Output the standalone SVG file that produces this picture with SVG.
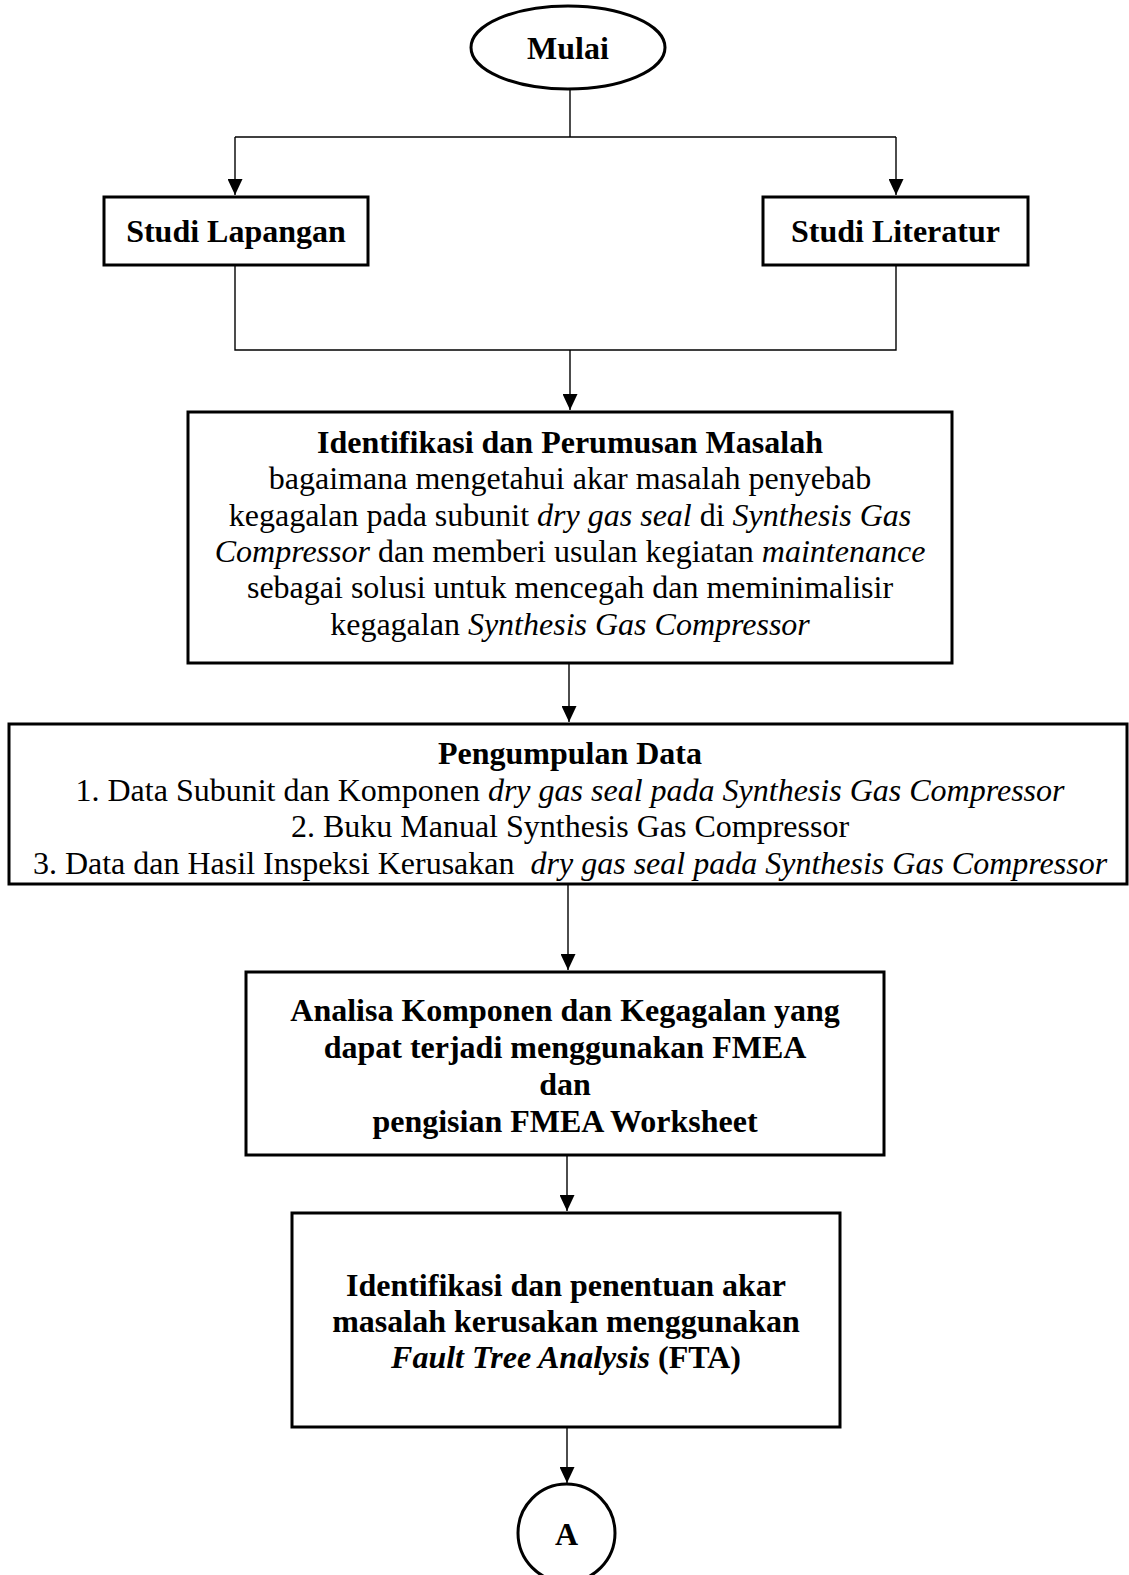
<svg xmlns="http://www.w3.org/2000/svg" width="1129" height="1575" viewBox="0 0 1129 1575">
<style>
  .node { fill: #fff; stroke: #000; stroke-width: 3; }
  .conn { fill: none; stroke: #000; stroke-width: 1.4; }
  text { font-family: "Liberation Serif", "Times New Roman", serif; font-size: 32px; fill: #000; text-anchor: middle; }
  .b { font-weight: bold; }
  .i { font-style: italic; }
</style>
<defs>
  <marker id="arrow" markerUnits="userSpaceOnUse" markerWidth="16" markerHeight="15" viewBox="0 0 16 15" refX="16" refY="7.5" orient="auto">
    <path d="M0,0 L16,7.5 L0,15 z" fill="#000"/>
  </marker>
</defs>
<rect width="1129" height="1575" fill="#fff"/>

<g id="connectors">
  <path class="conn" d="M570,89 V137"/>
  <path class="conn" d="M235,137 H896"/>
  <path class="conn" d="M235,137 V195" marker-end="url(#arrow)"/>
  <path class="conn" d="M896,137 V195" marker-end="url(#arrow)"/>
  <path class="conn" d="M235,265 V350 H896 V265"/>
  <path class="conn" d="M570,350 V410" marker-end="url(#arrow)"/>
  <path class="conn" d="M569,663 V722" marker-end="url(#arrow)"/>
  <path class="conn" d="M568,884 V970" marker-end="url(#arrow)"/>
  <path class="conn" d="M567,1155 V1211" marker-end="url(#arrow)"/>
  <path class="conn" d="M567,1427 V1483" marker-end="url(#arrow)"/>
</g>

<g id="mulai">
  <ellipse class="node" cx="568" cy="47.5" rx="97" ry="41.5"/>
  <text class="b" x="568" y="59">Mulai</text>
</g>

<g id="studi-lapangan">
  <rect class="node" x="104" y="197" width="264" height="68"/>
  <text class="b" x="236" y="242">Studi Lapangan</text>
</g>

<g id="studi-literatur">
  <rect class="node" x="763" y="197" width="265" height="68"/>
  <text class="b" x="895.5" y="242">Studi Literatur</text>
</g>

<g id="identifikasi-perumusan">
  <rect class="node" x="188" y="412" width="764" height="251"/>
  <text class="b" x="570" y="453">Identifikasi dan Perumusan Masalah</text>
  <text x="570" y="489">bagaimana mengetahui akar masalah penyebab</text>
  <text x="570" y="526">kegagalan pada subunit <tspan class="i">dry gas seal</tspan> di <tspan class="i">Synthesis Gas</tspan></text>
  <text x="570" y="562"><tspan class="i">Compressor</tspan> dan memberi usulan kegiatan <tspan class="i">maintenance</tspan></text>
  <text x="570" y="598">sebagai solusi untuk mencegah dan meminimalisir</text>
  <text x="570" y="635">kegagalan <tspan class="i">Synthesis Gas Compressor</tspan></text>
</g>

<g id="pengumpulan-data">
  <rect class="node" x="9" y="724" width="1118" height="160"/>
  <text class="b" x="570" y="764">Pengumpulan Data</text>
  <text x="570" y="801">1. Data Subunit dan Komponen <tspan class="i">dry gas seal pada Synthesis Gas Compressor</tspan></text>
  <text x="570" y="837">2. Buku Manual Synthesis Gas Compressor</text>
  <text x="570" y="874" xml:space="preserve">3. Data dan Hasil Inspeksi Kerusakan  <tspan class="i">dry gas seal pada Synthesis Gas Compressor</tspan></text>
</g>

<g id="analisa-fmea">
  <rect class="node" x="246" y="972" width="638" height="183"/>
  <text class="b" x="565" y="1021">Analisa Komponen dan Kegagalan yang</text>
  <text class="b" x="565" y="1058">dapat terjadi menggunakan FMEA</text>
  <text class="b" x="565" y="1095">dan</text>
  <text class="b" x="565" y="1132">pengisian FMEA Worksheet</text>
</g>

<g id="fta">
  <rect class="node" x="292" y="1213" width="548" height="214"/>
  <text class="b" x="566" y="1296">Identifikasi dan penentuan akar</text>
  <text class="b" x="566" y="1332">masalah kerusakan menggunakan</text>
  <text class="b" x="566" y="1368"><tspan class="i">Fault Tree Analysis</tspan> (FTA)</text>
</g>

<g id="connector-a">
  <ellipse class="node" cx="566.5" cy="1533" rx="48.5" ry="49"/>
  <text class="b" x="566.5" y="1545">A</text>
</g>
</svg>
